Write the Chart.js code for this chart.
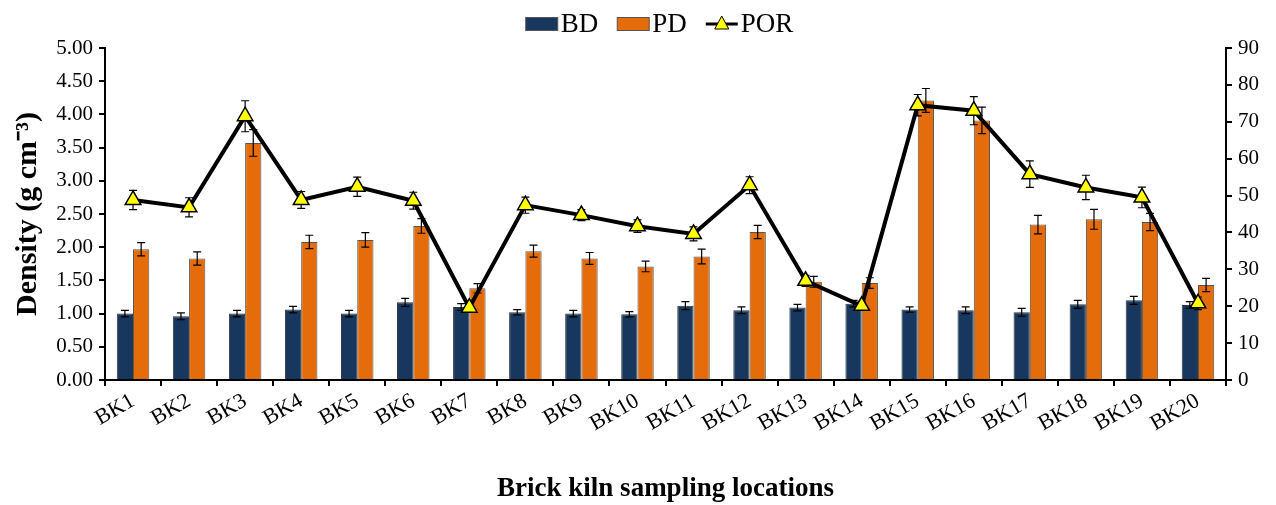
<!DOCTYPE html>
<html>
<head>
<meta charset="utf-8">
<script src="https://cdn.jsdelivr.net/npm/chart.js@4.4.1/dist/chart.umd.min.js"></script>
<style>
  html, body { margin: 0; padding: 0; background: #fff; }
  #wrap { width: 1276px; height: 505px; position: relative; }
</style>
</head>
<body>
<div id="wrap"><canvas id="chart"></canvas></div>
<script>
const labels = ["BK1","BK2","BK3","BK4","BK5","BK6","BK7","BK8","BK9","BK10",
                "BK11","BK12","BK13","BK14","BK15","BK16","BK17","BK18","BK19","BK20"];
const bd     = [1.00,0.96,1.00,1.06,1.00,1.17,1.10,1.02,1.00,0.99,1.12,1.05,1.09,1.15,1.06,1.05,1.02,1.14,1.20,1.13];
const bdErr  = [0.05,0.05,0.05,0.05,0.05,0.06,0.05,0.04,0.05,0.04,0.06,0.05,0.05,0.05,0.04,0.05,0.06,0.06,0.06,0.05];
const pd     = [1.97,1.83,3.57,2.08,2.11,2.32,1.38,1.94,1.83,1.71,1.86,2.23,1.48,1.46,4.21,3.91,2.34,2.42,2.38,1.43];
const pdErr  = [0.10,0.10,0.20,0.10,0.11,0.11,0.07,0.09,0.09,0.08,0.11,0.10,0.08,0.08,0.18,0.20,0.14,0.15,0.13,0.10];
const por    = [48.8,46.8,71.5,48.8,52.4,48.6,19.6,47.4,44.7,41.7,39.6,52.8,26.9,20.1,74.5,73.0,55.8,52.2,49.5,20.8];
const porErr = [2.6,2.6,4.2,2.3,2.6,2.3,1.3,2.2,1.5,1.7,1.9,2.3,1.5,1.2,2.9,3.8,3.6,3.3,2.8,1.7];
const leftTicks = [0,0.5,1,1.5,2,2.5,3,3.5,4,4.5,5];
const rightTicks = [0,10,20,30,40,50,60,70,80,90];

const FONT = "'Liberation Serif', 'Times New Roman', serif";

// error bars drawn through the dataset's own scales
const errorBars = {
  id: "errorBars",
  afterDatasetDraw(chart, args) {
    if (chart.data.datasets[args.index].type === "line") return;
    drawErr(chart, args.index);
  },
  beforeDatasetDraw(chart, args) {
    if (chart.data.datasets[args.index].type !== "line") return;
    drawErr(chart, args.index);
  }
};

function drawErr(chart, i) {
  const ds = chart.data.datasets[i];
  if (!ds.errors) return;
  const meta = chart.getDatasetMeta(i);
  const scale = chart.scales[ds.yAxisID];
  const ctx = chart.ctx;
  ctx.save();
  ctx.strokeStyle = "#000";
  ctx.lineWidth = 1.2;
  meta.data.forEach((el, j) => {
    const v = ds.data[j], e = ds.errors[j];
    const x = el.x;
    const y1 = scale.getPixelForValue(v + e);
    const y2 = scale.getPixelForValue(v - e);
    ctx.beginPath();
    ctx.moveTo(x, y1); ctx.lineTo(x, y2);
    ctx.moveTo(x - 4, y1); ctx.lineTo(x + 4, y1);
    ctx.moveTo(x - 4, y2); ctx.lineTo(x + 4, y2);
    ctx.stroke();
  });
  ctx.restore();
}

// legend at the top; the line item shows a line with a triangle marker
const topLegend = {
  id: "topLegend",
  afterDraw(chart) {
    const ctx = chart.ctx;
    ctx.save();
    ctx.font = "27px " + FONT;
    ctx.textBaseline = "middle";
    const y = 24;
    const sym = 32, gap = 3, itemGap = 19;
    const items = chart.data.datasets.map(d => ({ d, w: sym + gap + ctx.measureText(d.label).width }));
    const total = items.reduce((s, it) => s + it.w, 0) + itemGap * (items.length - 1);
    let x = (chart.chartArea.left + chart.chartArea.right) / 2 - 6 - total / 2;
    items.forEach(({ d, w }) => {
      if (d.type === "line") {
        ctx.strokeStyle = "#000";
        ctx.lineWidth = 3;
        ctx.beginPath();
        ctx.moveTo(x, y); ctx.lineTo(x + sym, y);
        ctx.stroke();
        ctx.beginPath();
        const cx = x + sym / 2;
        ctx.moveTo(cx, y - 8); ctx.lineTo(cx + 7, y + 5); ctx.lineTo(cx - 7, y + 5); ctx.closePath();
        ctx.fillStyle = d.pointBackgroundColor;
        ctx.fill();
        ctx.lineWidth = 1;
        ctx.stroke();
      } else {
        ctx.fillStyle = d.backgroundColor;
        ctx.fillRect(x, y - 6.5, sym, 13);
        ctx.strokeStyle = "#555";
        ctx.lineWidth = 1;
        ctx.strokeRect(x, y - 6.5, sym, 13);
      }
      ctx.fillStyle = "#000";
      ctx.textAlign = "left";
      ctx.fillText(d.label, x + sym + gap, y + 1);
      x += w + itemGap;
    });
    ctx.restore();
  }
};

new Chart(document.getElementById("chart"), {
  data: {
    labels: labels,
    datasets: [
      {
        type: "bar", label: "BD", data: bd, errors: bdErr, yAxisID: "y", order: 1,
        backgroundColor: "#17375E", borderColor: "#333", borderWidth: 1
      },
      {
        type: "bar", label: "PD", data: pd, errors: pdErr, yAxisID: "y", order: 1,
        backgroundColor: "#E46C0A", borderColor: "#555", borderWidth: 1
      },
      {
        type: "line", label: "POR", data: por, errors: porErr, yAxisID: "y2", order: 0,
        borderColor: "#000", borderWidth: 4, tension: 0,
        pointStyle: "triangle", pointRadius: 9, pointBorderWidth: 1.5,
        pointBackgroundColor: "#FFFF00", pointBorderColor: "#000"
      }
    ]
  },
  options: {
    responsive: true,
    maintainAspectRatio: false,
    animation: false,
    layout: { padding: { top: 48, left: 0, right: 0, bottom: 0 } },
    datasets: { bar: { barPercentage: 1.0, categoryPercentage: 0.58 } },
    plugins: { legend: { display: false }, tooltip: { enabled: false } },
    scales: {
      x: {
        offset: true,
        grid: { display: true, drawOnChartArea: false, offset: true, color: "#000", lineWidth: 2, tickLength: 6 },
        border: { color: "#000", width: 2 },
        ticks: { color: "#000", font: { family: FONT, size: 22 }, autoSkip: false,
                 minRotation: 30, maxRotation: 30, padding: 2 },
        title: { display: true, text: "Brick kiln sampling locations", color: "#000",
                 font: { family: FONT, size: 27, weight: "bold" }, padding: { top: 24, bottom: 0 } },
        afterFit(s) { s.height = 125; }
      },
      y: {
        position: "left", min: 0, max: 5,
        afterBuildTicks(s) { s.ticks = leftTicks.map(v => ({ value: v })); },
        grid: { display: true, drawOnChartArea: false, color: "#000", lineWidth: 2, tickLength: 6 },
        border: { color: "#000", width: 2 },
        ticks: { color: "#000", font: { family: FONT, size: 21 }, padding: 6, callback: v => Number(v).toFixed(2) },
        title: { display: true, text: "Density (g cm\u207B\u00B3)", color: "#000",
                 font: { family: FONT, size: 30, weight: "bold" }, padding: { top: 10, bottom: 4 } },
        afterFit(s) { s.width = 105; }
      },
      y2: {
        position: "right", min: 0, max: 90,
        afterBuildTicks(s) { s.ticks = rightTicks.map(v => ({ value: v })); },
        grid: { display: true, drawOnChartArea: false, color: "#000", lineWidth: 2, tickLength: 6 },
        border: { color: "#000", width: 2 },
        ticks: { color: "#000", font: { family: FONT, size: 21 }, padding: 6 },
        afterFit(s) { s.width = 50; }
      }
    }
  },
  plugins: [errorBars, topLegend]
});
</script>
</body>
</html>
